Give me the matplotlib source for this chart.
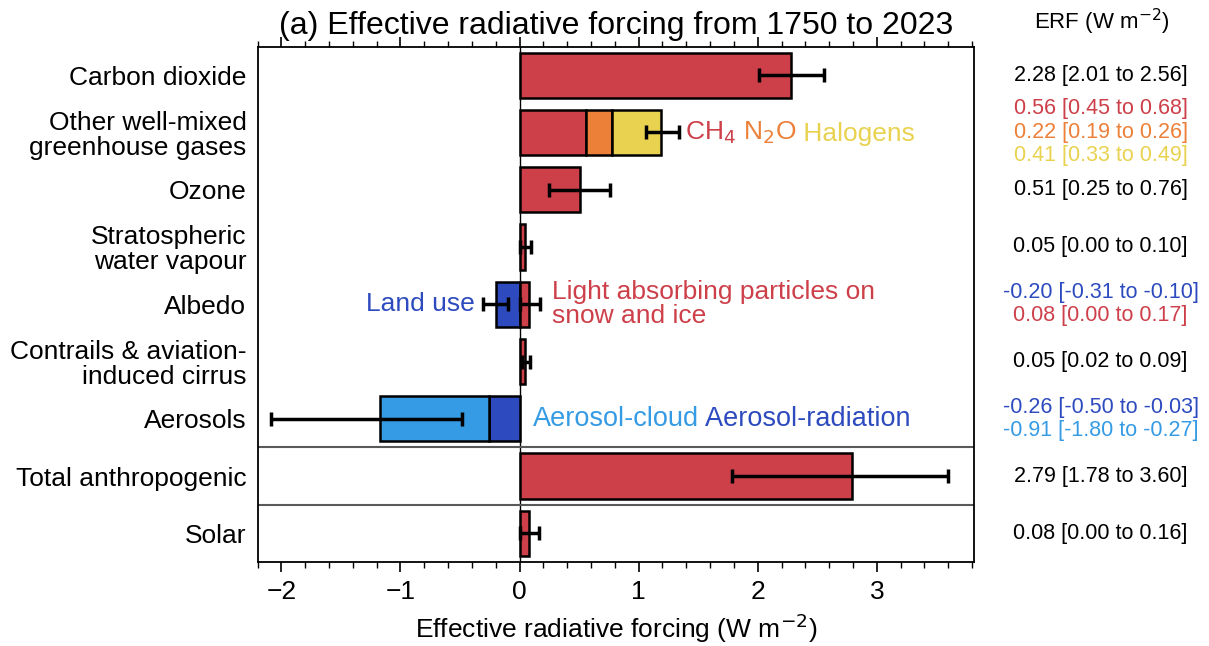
import numpy as np
import matplotlib.pyplot as plt

plt.rcParams['font.family'] = ['Liberation Sans', 'DejaVu Sans']

# Row labels, top to bottom
categories = ['Carbon dioxide', 'Other well-mixed\ngreenhouse gases', 'Ozone',
              'Stratospheric\nwater vapour', 'Albedo', 'Contrails & aviation-\ninduced cirrus',
              'Aerosols', 'Total anthropogenic', 'Solar']

# Single-component rows: (row index, best estimate, low, high)
single_rows = [0, 2, 3, 5, 7, 8]
single_best = [2.28, 0.51, 0.05, 0.05, 2.79, 0.08]
single_low = [2.01, 0.25, 0.00, 0.02, 1.78, 0.00]
single_high = [2.56, 0.76, 0.10, 0.09, 3.60, 0.16]

# Well-mixed greenhouse gases, stacked
ghg_names = ['CH$_4$', 'N$_2$O', 'Halogens']
ghg_best = [0.56, 0.22, 0.41]
ghg_low = [0.45, 0.19, 0.33]
ghg_high = [0.68, 0.26, 0.49]
ghg_total_range = [1.06, 1.34]

# Albedo: land use (negative) and light absorbing particles (positive)
albedo_best = [-0.20, 0.08]
albedo_low = [-0.31, 0.00]
albedo_high = [-0.10, 0.17]

# Aerosols: aerosol-radiation and aerosol-cloud, stacked to the left
aer_best = [-0.26, -0.91]
aer_low = [-0.50, -1.80]
aer_high = [-0.03, -0.27]
aer_total_range = [-2.09, -0.48]

red = '#cd404a'
orange = '#ec8038'
yellow = '#e9d250'
dblue = '#2d4bbe'
lblue = '#359be4'
ghg_colors = [red, orange, yellow]

bar_h = 0.79
bar_kw = dict(height=bar_h, edgecolor='black', linewidth=1.8, zorder=3)
err_kw = dict(fmt='none', ecolor='black', elinewidth=2.5, capsize=5, capthick=2.5, zorder=4)

fig = plt.figure(figsize=(12.09, 6.46), dpi=100)
ax = fig.add_axes([0.213, 0.130, 0.593, 0.798])

# single bars
ax.barh(single_rows, single_best, color=red, **bar_kw)
best = np.array(single_best)
xerr = np.vstack([best - np.array(single_low), np.array(single_high) - best])
ax.errorbar(single_best, single_rows, xerr=xerr, **err_kw)

# stacked GHG bar
left = 0.0
for val, col in zip(ghg_best, ghg_colors):
    ax.barh(1, val, left=left, color=col, **bar_kw)
    left += val
ghg_sum = sum(ghg_best)
ax.errorbar([ghg_sum], [1], xerr=[[ghg_sum - ghg_total_range[0]], [ghg_total_range[1] - ghg_sum]], **err_kw)

# albedo components
ax.barh(4, albedo_best[0], color=dblue, **bar_kw)
ax.barh(4, albedo_best[1], color=red, **bar_kw)
for b, lo, hi in zip(albedo_best, albedo_low, albedo_high):
    ax.errorbar([b], [4], xerr=[[b - lo], [hi - b]], **err_kw)

# aerosol components
ax.barh(6, aer_best[0], color=dblue, **bar_kw)
ax.barh(6, aer_best[1], left=aer_best[0], color=lblue, **bar_kw)
aer_sum = sum(aer_best)
ax.errorbar([aer_sum], [6], xerr=[[aer_sum - aer_total_range[0]], [aer_total_range[1] - aer_sum]], **err_kw)

# zero line and group separators
ax.axvline(0, color='black', lw=1.0, zorder=2)
for yy in (6.5, 7.5):
    ax.axhline(yy, color='0.35', lw=1.5, zorder=2)

# inline component labels
fs_in = 19
t = ax.text(1.39, 1, ghg_names[0], color=red, fontsize=fs_in, va='center', ha='left')
fig.canvas.draw()
for name, col in zip(ghg_names[1:], ghg_colors[1:]):
    t = ax.annotate(' ' + name, xycoords=t, xy=(1, 0), va='bottom', ha='left',
                    color=col, fontsize=fs_in)
ax.text(-0.38, 4, 'Land use', color=dblue, fontsize=fs_in, va='center', ha='right')
ax.text(0.27, 4, 'Light absorbing particles on\nsnow and ice', color=red,
        fontsize=fs_in, va='center', ha='left', linespacing=1.0)
t = ax.text(0.11, 6, 'Aerosol-cloud', color=lblue, fontsize=19.5, va='center', ha='left')
ax.annotate(' Aerosol-radiation', xycoords=t, xy=(1, 0), va='bottom', ha='left',
            color=dblue, fontsize=19.5)

ax.set_xlim(-2.2, 3.82)
ax.set_ylim(8.5, -0.5)
ax.set_yticks(range(len(categories)))
ax.set_yticklabels(categories, fontsize=19, linespacing=1.05)
ax.tick_params(axis='y', length=0, pad=8)
ax.set_xticks([-2, -1, 0, 1, 2, 3])
ax.set_xticks(np.arange(-2.2, 3.81, 0.2), minor=True)
ax.set_xticklabels(['\u22122', '\u22121', '0', '1', '2', '3'], fontsize=19)
ax.tick_params(axis='x', which='both', top=True, direction='out')
ax.tick_params(axis='x', which='major', length=7, width=1.2, pad=6)
ax.tick_params(axis='x', which='minor', length=4, width=1.0)
for sp in ax.spines.values():
    sp.set_linewidth(1.3)
ax.set_xlabel('Effective radiative forcing (W m$^{-2}$)', fontsize=19, labelpad=5)
ax.set_title('(a) Effective radiative forcing from 1750 to 2023', fontsize=23, pad=9)

# value column on the right
fs_r = 15.5
xr = 1.176
fig.text(0.911, 0.966, 'ERF (W m$^{-2}$)', fontsize=16, ha='center', va='center')


def rtext(y, s, color='black'):
    ax.text(xr, y, s, transform=ax.get_yaxis_transform(), fontsize=fs_r,
            ha='center', va='center', color=color)


def fmt(b, lo, hi):
    return f'{b:.2f} [{lo:.2f} to {hi:.2f}]'


for r, b, lo, hi in zip(single_rows, single_best, single_low, single_high):
    rtext(r, fmt(b, lo, hi))
for k, (b, lo, hi, col) in enumerate(zip(ghg_best, ghg_low, ghg_high, ghg_colors)):
    rtext(1.0 + (k - 1) * 0.41, fmt(b, lo, hi), col)
for k, (b, lo, hi, col) in enumerate(zip(albedo_best, albedo_low, albedo_high, [dblue, red])):
    rtext(4 + (k - 0.5) * 0.4, fmt(b, lo, hi), col)
for k, (b, lo, hi, col) in enumerate(zip(aer_best, aer_low, aer_high, [dblue, lblue])):
    rtext(6 + (k - 0.5) * 0.4, fmt(b, lo, hi), col)

fig.savefig('out.png', dpi=100)
